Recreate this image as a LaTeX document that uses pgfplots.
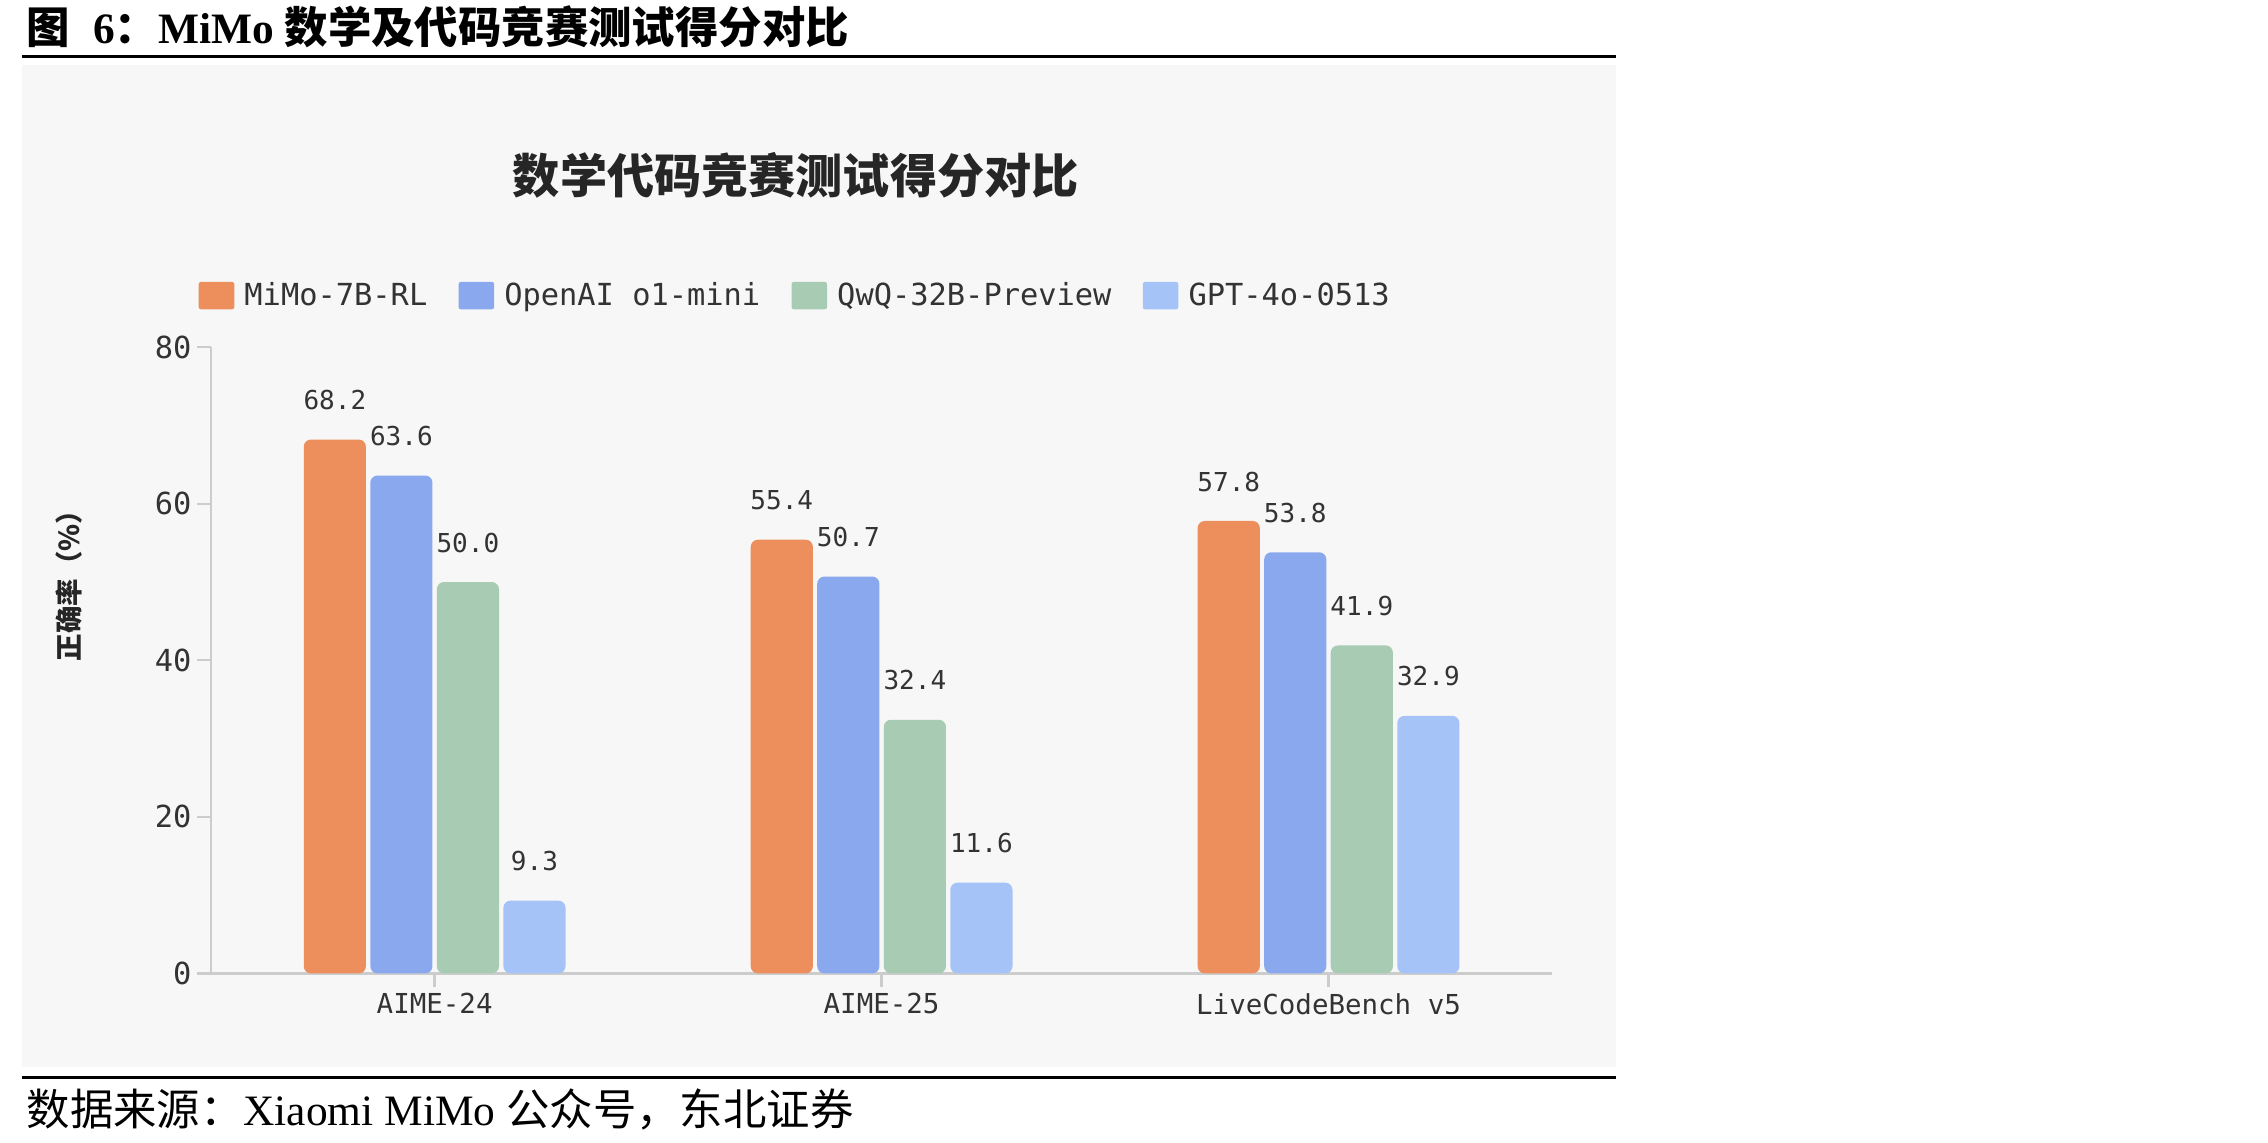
\documentclass[border=0pt]{standalone}
\usepackage{fontspec}
\usepackage{pgfplots}
\pgfplotsset{compat=1.18}
\setmainfont{Liberation Serif}
\newfontfamily\cjk{Noto Sans CJK SC}
\newfontfamily\mono{DejaVu Sans Mono}
\definecolor{cOrange}{HTML}{ED8F5C}
\definecolor{cBlue}{HTML}{8AA8EE}
\definecolor{cGreen}{HTML}{A8CBB4}
\definecolor{cLight}{HTML}{A6C3F7}
\definecolor{panel}{HTML}{F7F7F7}
\definecolor{axisgray}{HTML}{CCCCCC}
\definecolor{txt}{HTML}{333333}
\pgfplotsset{/pgf/number format/assume math mode=true}
\begin{document}
\begin{tikzpicture}
\useasboundingbox (0,0) rectangle (784pt,395pt);
\fill[panel] (7.5pt,26pt) rectangle (558.5pt,372.5pt);
\draw[line width=0.9pt] (7.5pt,375.5pt) -- (558.5pt,375.5pt);
\draw[line width=0.9pt] (7.5pt,22.5pt) -- (558.5pt,22.5pt);
\node[anchor=base west, inner sep=0pt] at (9pt,380pt) {\fontsize{15pt}{15pt}\selectfont\bfseries{\cjk 图}\hspace{8pt}6{\cjk ：}MiMo {\cjk 数学及代码竞赛测试得分对比}};
\node[anchor=base west, inner sep=0pt] at (9pt,6pt) {\fontsize{15pt}{15pt}\selectfont{\cjk 数据来源：}Xiaomi MiMo {\cjk 公众号，东北证券}};
\begin{axis}[
  at={(73pt,58.5pt)}, anchor=south west,
  scale only axis, width=463.5pt, height=216.5pt,
  xmin=-0.5, xmax=2.5, ymin=0, ymax=80,
  axis x line*=bottom, axis y line*=left,
  axis line style={axisgray, line width=0.8pt},
  xtick={0,1,2}, xticklabels={AIME-24,AIME-25,LiveCodeBench v5},
  ytick={0,20,40,60,80},
  tick align=outside, major tick length=4.8pt,
  tick style={axisgray, line width=0.8pt},
  yticklabel style={font=\mono\fontsize{10.5pt}{11pt}\selectfont, text=txt, xshift=1.5pt},
  xticklabel style={font=\mono\fontsize{9.5pt}{10pt}\selectfont, text=txt, yshift=1.5pt},
  ybar, bar width=21.5pt,
  clip=false,
  nodes near coords={\pgfmathprintnumber[fixed,fixed zerofill,precision=1]{\pgfplotspointmeta}},
  every node near coord/.append style={font=\mono\fontsize{9pt}{9pt}\selectfont, text=txt, inner sep=0pt, anchor=south, yshift=10pt},
  title={\cjk\bfseries 数学代码竞赛测试得分对比},
  title style={at={(axis description cs:0.436,1.247)}, anchor=center, font=\fontsize{16.3pt}{17pt}\selectfont, text=black!85},
  ylabel={\cjk\bfseries 正确率（\%）},
  every axis y label/.style={at={(axis description cs:-0.1057,0.63)}, rotate=90, anchor=center, font=\fontsize{9.5pt}{10pt}\selectfont, text=black!85},
  legend columns=4,
  legend image code/.code={\fill[#1, rounded corners=0.8pt] (0pt,-4.6pt) rectangle (12.3pt,4.9pt);},
  legend style={at={(axis description cs:0,1)}, anchor=west, xshift=-4.5pt, yshift=17.75pt,
    draw=none, fill=none, inner sep=0pt,
    font=\mono\fontsize{10.5pt}{10.5pt}\selectfont, text=txt,
    nodes={inner sep=0pt},
    /tikz/every odd column/.append style={column sep=3.5pt},
    /tikz/every even column/.append style={column sep=10.8pt}},
]
\addplot[fill=cOrange, draw=none, bar shift=-34.5pt, rounded corners=2.5pt] coordinates {(0,68.2) (1,55.4) (2,57.8)};
\addplot[fill=cBlue, draw=none, bar shift=-11.5pt, rounded corners=2.5pt] coordinates {(0,63.6) (1,50.7) (2,53.8)};
\addplot[fill=cGreen, draw=none, bar shift=11.5pt, rounded corners=2.5pt] coordinates {(0,50.0) (1,32.4) (2,41.9)};
\addplot[fill=cLight, draw=none, bar shift=34.5pt, rounded corners=2.5pt] coordinates {(0,9.3) (1,11.6) (2,32.9)};
\legend{MiMo-7B-RL,OpenAI o1-mini,QwQ-32B-Preview,GPT-4o-0513}
\end{axis}
\end{tikzpicture}
\end{document}
